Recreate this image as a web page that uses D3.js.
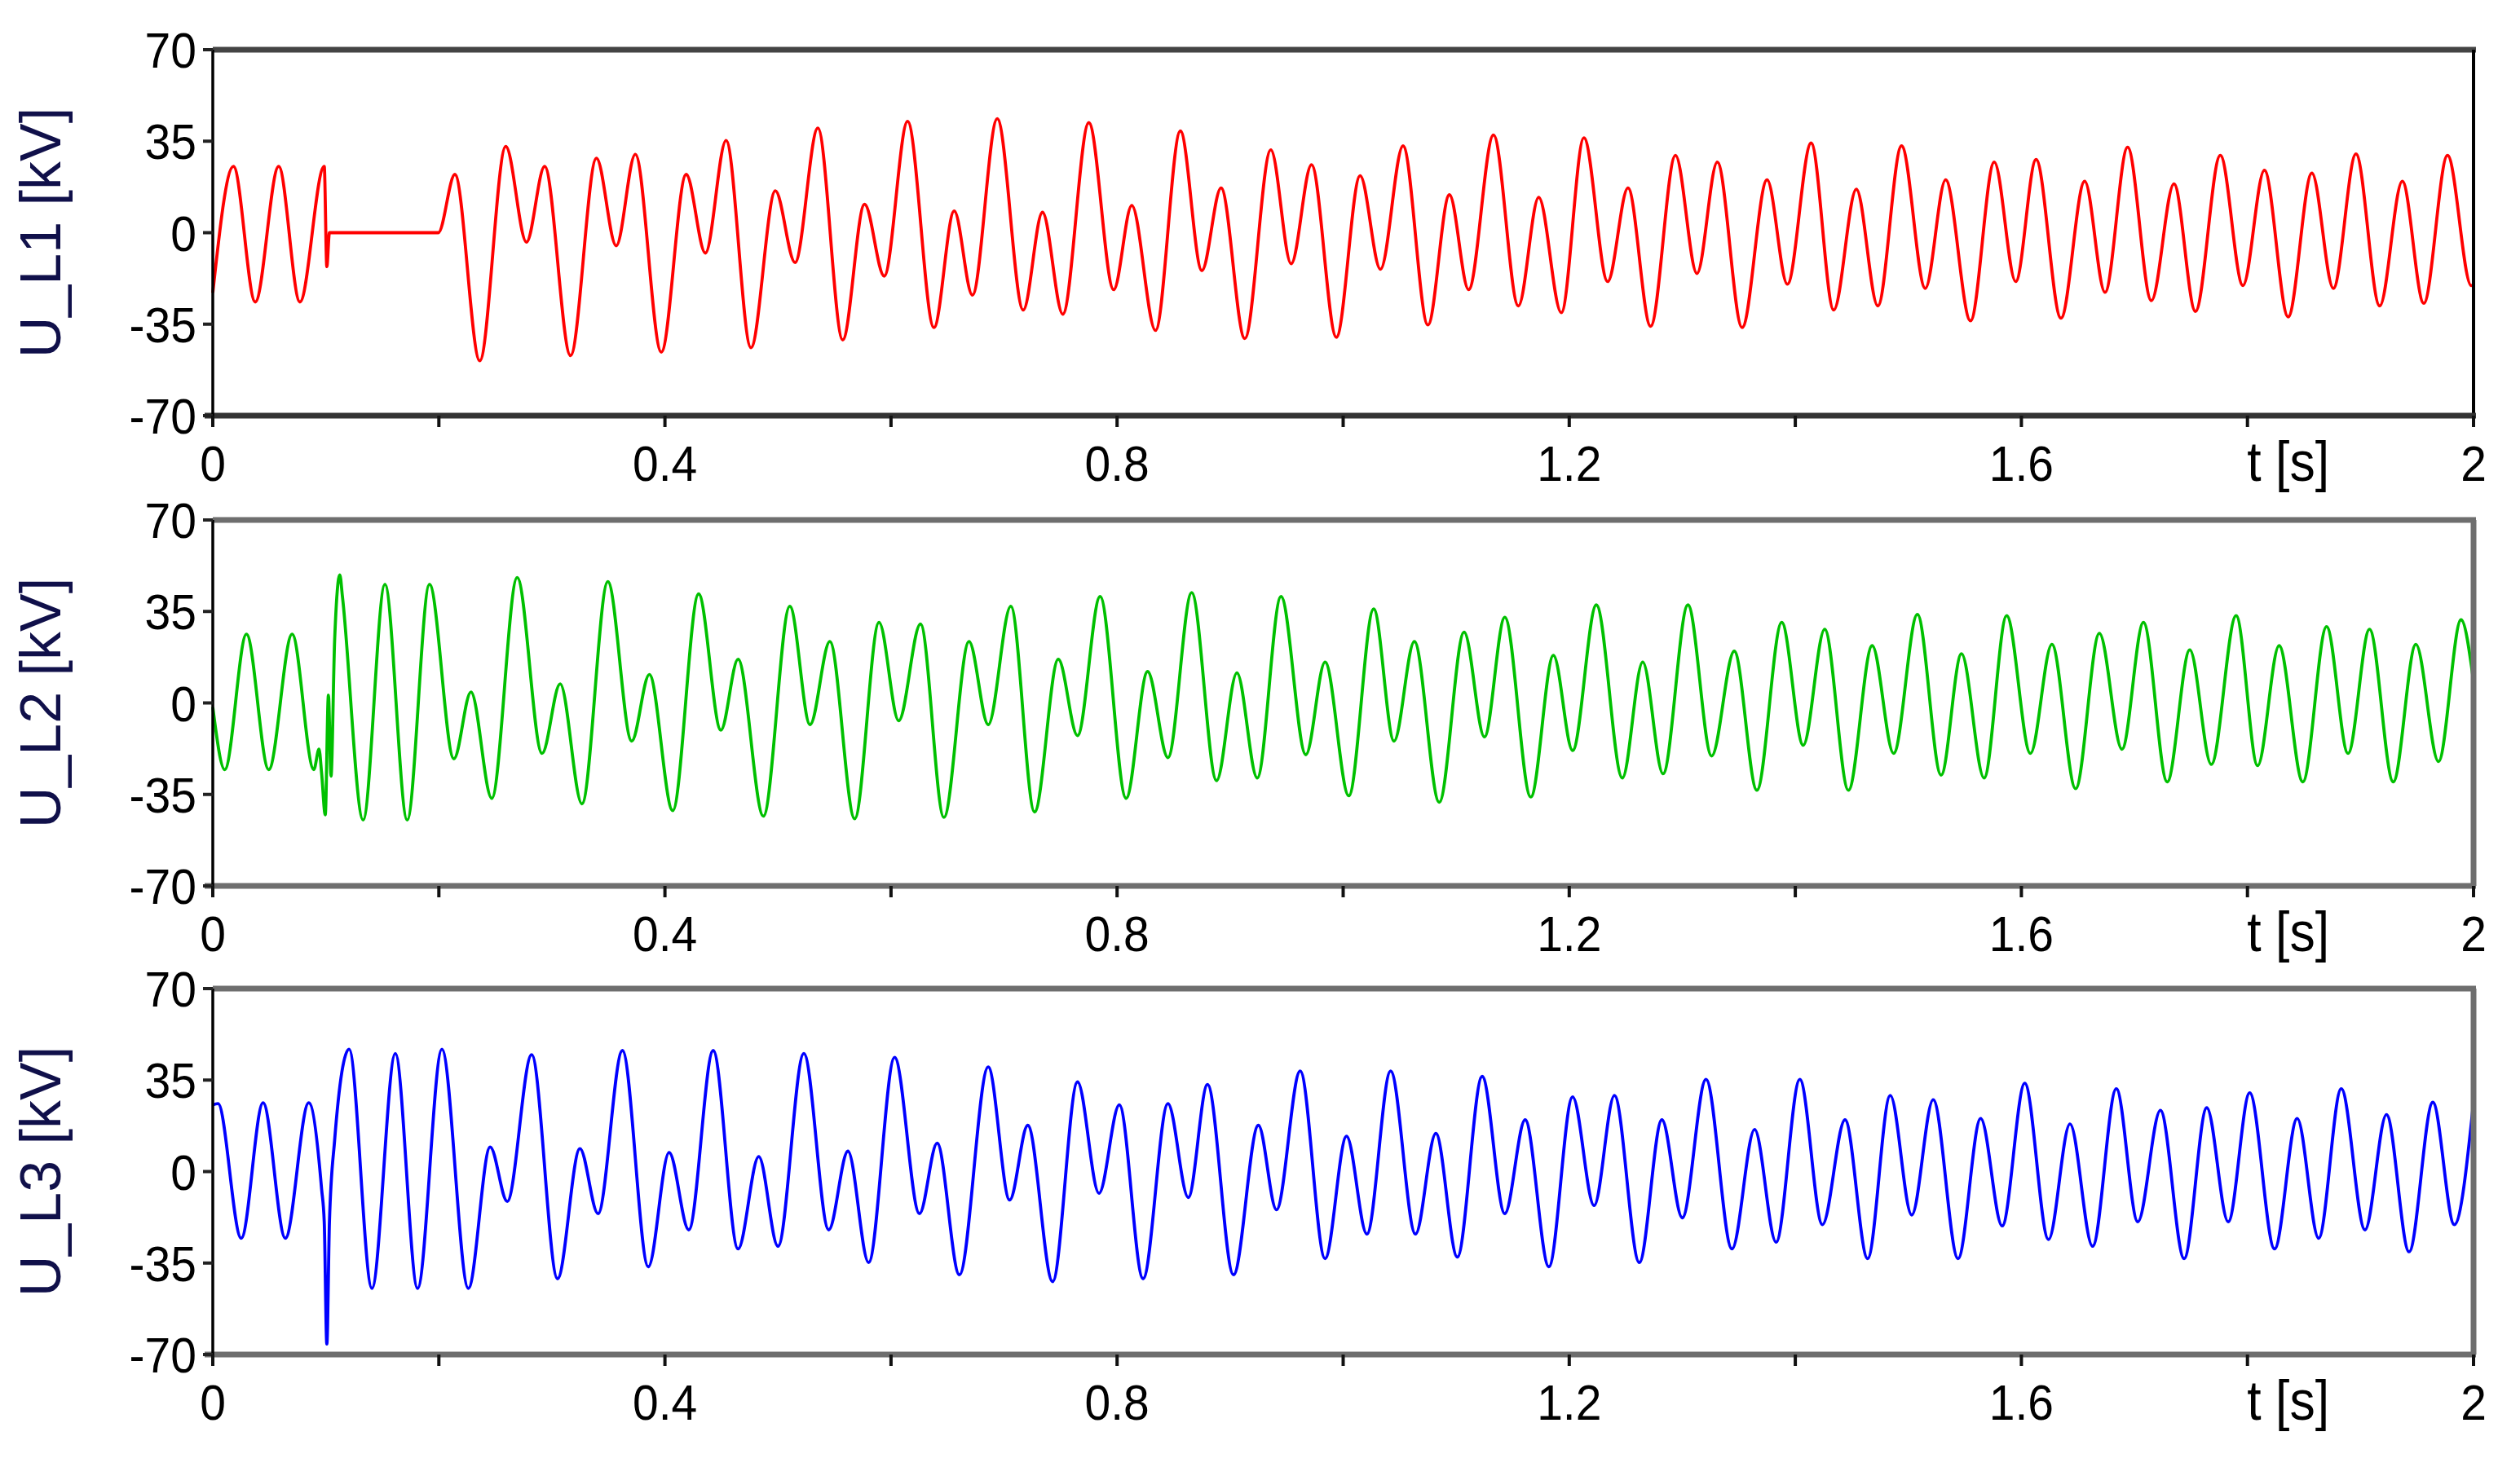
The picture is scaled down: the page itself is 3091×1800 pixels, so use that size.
<!DOCTYPE html>
<html><head><meta charset="utf-8">
<script src="https://cdn.jsdelivr.net/npm/d3@7"></script>
<style>body{margin:0;background:#fff}</style></head>
<body><svg id="c" width="3091" height="1800"></svg>
<script>
const xTicks=[0,0.2,0.4,0.6,0.8,1.0,1.2,1.4,1.6,1.8,2];
const xLabels=["0","","0.4","","0.8","","1.2","","1.6","t [s]","2"];
const yTicks=[70,35,0,-35,-70];
const titles=["U_L1 [kV]","U_L2 [kV]","U_L3 [kV]"];
const colors=["#ff0000","#00c000","#0000ff"];
const uL1=[[0,-23],[.0183,25.4],[.0376,-26.5],[.0583,25.4],[.0771,-26.5],[.0986,25.4],[.1009,-13],[.1032,0],[.1995,0],[.2142,22.3],[.2362,-49],[.2592,33],[.2775,-3.6],[.2936,25.4],[.3165,-47],[.3394,28.5],[.3569,-5],[.3738,30],[.3968,-45.7],[.4188,22.3],[.4358,-7.8],[.4541,35.3],[.4761,-44],[.4977,16],[.5151,-11.4],[.5353,40],[.5573,-41],[.5766,10.9],[.5940,-16.6],[.6147,42.6],[.6380,-36.3],[.6559,8.3],[.672,-23.9],[.694,43.6],[.717,-29.6],[.734,7.8],[.752,-31.2],[.775,42.1],[.797,-21.8],[.813,10.4],[.834,-37.4],[.856,38.9],[.875,-14.5],[.892,17.1],[.913,-40.5],[.936,31.7],[.954,-11.9],[.972,26],[.994,-40],[1.015,21.8],[1.033,-14],[1.053,33.2],[1.075,-35.3],[1.094,14.5],[1.111,-21.8],[1.133,37.4],[1.155,-28],[1.173,13.5],[1.193,-30.6],[1.213,36.3],[1.234,-18.7],[1.252,17.1],[1.272,-35.8],[1.294,29.6],[1.313,-15.6],[1.331,27],[1.353,-36.3],[1.375,20.2],[1.393,-19.7],[1.414,34.3],[1.434,-29.6],[1.454,16.6],[1.473,-28],[1.494,33.2],[1.515,-21.3],[1.533,20.2],[1.555,-33.7],[1.576,27],[1.595,-18.7],[1.613,28],[1.635,-32.7],[1.656,19.7],[1.674,-22.8],[1.694,32.7],[1.715,-26],[1.735,18.7],[1.754,-30.1],[1.776,29.6],[1.796,-20.2],[1.815,23.9],[1.836,-32.2],[1.857,22.8],[1.876,-21.3],[1.896,30.1],[1.917,-28],[1.937,19.7],[1.956,-27],[1.977,29.6],[1.998,-20.2],[2,-20]];
const uL2=[[0,-1.6],[.0106,-25.5],[.0298,26.3],[.0495,-25.5],[.0702,26.3],[.0894,-25.5],[.094,-17.7],[.0963,-27],[.0995,-42.8],[.1023,3],[.1046,-28],[.1078,24],[.1124,49],[.1147,40.7],[.133,-44.8],[.1523,45.4],[.172,-44.8],[.1917,45.4],[.2133,-21.4],[.2284,4.2],[.2468,-36.5],[.2693,48],[.2913,-19.3],[.3073,7.3],[.3266,-38.6],[.3495,46.4],[.3706,-14.6],[.3862,10.9],[.4069,-41.2],[.4298,41.7],[.4495,-10.4],[.4647,16.7],[.4871,-43.3],[.5105,37],[.5284,-8.3],[.5459,23.5],[.5679,-44.3],[.5894,30.8],[.6068,-6.8],[.6261,30.2],[.6468,-43.8],[.669,23.5],[.686,-8.3],[.706,37],[.727,-41.7],[.748,16.7],[.765,-12.5],[.785,40.7],[.808,-36.5],[.827,12],[.845,-20.9],[.866,42.2],[.888,-29.7],[.906,11.5],[.924,-28.7],[.945,40.7],[.967,-19.8],[.984,15.6],[1.005,-35.5],[1.027,36],[1.045,-14.6],[1.063,23.5],[1.085,-38],[1.107,27.1],[1.125,-13],[1.143,32.8],[1.166,-36],[1.186,18.2],[1.203,-18.2],[1.224,37.5],[1.247,-28.7],[1.265,15.6],[1.283,-27.1],[1.305,37.5],[1.326,-20.3],[1.346,19.8],[1.366,-33.4],[1.388,30.8],[1.407,-16.2],[1.426,28.2],[1.447,-33.4],[1.468,21.9],[1.487,-19.3],[1.508,33.9],[1.529,-27.6],[1.547,18.8],[1.567,-28.7],[1.587,33.4],[1.608,-19.3],[1.627,22.4],[1.648,-32.8],[1.669,26.6],[1.689,-17.7],[1.708,30.8],[1.729,-30.2],[1.749,20.3],[1.768,-23.5],[1.790,33.4],[1.809,-24],[1.828,21.9],[1.849,-30.2],[1.870,29.2],[1.889,-19.3],[1.908,28.2],[1.929,-30.2],[1.949,22.4],[1.969,-22.4],[1.989,31.8],[2,8.3]];
const uL3=[[0,25.5],[.0046,26],[.0252,-25.5],[.0445,26.3],[.0642,-25.5],[.0849,26.3],[.0963,-6.8],[.0986,-19.2],[.1009,-66],[.1032,-19.2],[.1078,12],[.1206,46.8],[.1408,-44.7],[.1615,45.2],[.1812,-44.7],[.2027,46.8],[.2261,-44.7],[.2454,9.4],[.2605,-11.4],[.2821,44.7],[.305,-41],[.3248,8.8],[.3408,-16.1],[.3624,46.3],[.3853,-36.4],[.4037,7.3],[.4211,-22.3],[.4427,46.3],[.4647,-29.6],[.483,5.7],[.5,-28.6],[.5229,45.2],[.5449,-22.3],[.5619,7.8],[.5802,-34.8],[.6032,43.7],[.6252,-16.1],[.6408,10.9],[.6605,-39.5],[.686,40],[.705,-10.9],[.721,17.7],[.743,-42.1],[.765,34.3],[.784,-8.3],[.802,25.5],[.823,-41],[.845,26],[.863,-9.9],[.880,33.3],[.903,-39.5],[.925,17.7],[.941,-14.6],[.962,38.5],[.984,-33.3],[1.003,13.5],[1.021,-23.9],[1.042,38.5],[1.064,-23.9],[1.082,14.6],[1.101,-32.7],[1.123,36.4],[1.143,-16.1],[1.161,19.8],[1.182,-36.4],[1.203,28.6],[1.222,-13],[1.240,29.1],[1.262,-34.8],[1.282,19.8],[1.300,-17.7],[1.321,35.3],[1.344,-29.6],[1.364,16.1],[1.383,-27],[1.404,35.3],[1.424,-20.3],[1.444,19.8],[1.464,-33.3],[1.484,29.1],[1.503,-16.6],[1.522,27.5],[1.544,-33.3],[1.564,20.3],[1.583,-20.8],[1.603,33.8],[1.624,-26],[1.643,18.2],[1.663,-28.6],[1.684,31.7],[1.703,-19.2],[1.723,23.4],[1.744,-33.3],[1.764,24.4],[1.783,-19.2],[1.802,30.1],[1.824,-29.6],[1.844,20.3],[1.863,-25.5],[1.883,31.7],[1.904,-22.3],[1.923,21.8],[1.943,-30.7],[1.964,26.5],[1.983,-20.3],[2,26.5]];
const series=[uL1,uL2,uL3];

const svg=d3.select("#c");
const x=d3.scaleLinear().domain([0,2]).range([261,3034]);
const panelTops=[61,638,1213], panelH=449;
const font="'Liberation Sans', Arial, sans-serif";

series.forEach((data,i)=>{
  const top=panelTops[i], bot=top+panelH;
  const y=d3.scaleLinear().domain([-70,70]).range([bot,top]);
  const g=svg.append("g");
  g.append("path").datum(data)
    .attr("fill","none").attr("stroke",colors[i]).attr("stroke-width",3.8)
    .attr("stroke-linejoin","round")
    .attr("d",d3.line().x(d=>x(d[0])).y(d=>y(d[1])).curve(d3.curveMonotoneX));
  const fc=i===0?"#444":"#6e6e6e";
  g.append("line").attr("x1",x(0)).attr("x2",x(2)+3).attr("y1",top).attr("y2",top).attr("stroke",fc).attr("stroke-width",7);
  g.append("line").attr("x1",x(2)).attr("x2",x(2)).attr("y1",top).attr("y2",bot).attr("stroke",i===0?"#000":fc).attr("stroke-width",i===0?4:7);
  g.append("line").attr("x1",x(0)-10).attr("x2",x(2)+3).attr("y1",bot).attr("y2",bot).attr("stroke",i===0?"#333":"#6e6e6e").attr("stroke-width",7);
  g.append("line").attr("x1",x(0)).attr("x2",x(0)).attr("y1",top).attr("y2",bot+12).attr("stroke","#000").attr("stroke-width",3.5);
  yTicks.forEach(v=>{
    g.append("line").attr("x1",x(0)-12).attr("x2",x(0)).attr("y1",y(v)).attr("y2",y(v)).attr("stroke","#222").attr("stroke-width",4);
    g.append("text").attr("transform",`translate(${x(0)-20},${y(v)+22}) scale(0.92,1)`)
      .attr("text-anchor","end").attr("font-family",font).attr("font-size",62).attr("fill","#000").text(v);
  });
  xTicks.forEach((t,k)=>{
    g.append("line").attr("x1",x(t)).attr("x2",x(t)).attr("y1",bot).attr("y2",bot+14).attr("stroke","#111").attr("stroke-width",4);
    if(xLabels[k]) g.append("text").attr("transform",`translate(${x(t)+(k===9?50:0)},${bot+80}) scale(0.92,1)`)
      .attr("text-anchor","middle").attr("font-family",font).attr("font-size",k===9?68:62).attr("fill","#000").text(xLabels[k]);
  });
  g.append("text").attr("transform",`translate(${74},${(top+bot)/2}) rotate(-90)`)
    .attr("text-anchor","middle").attr("font-family",font).attr("font-size",70).attr("fill","#10104a").text(titles[i]);
});
</script></body></html>
